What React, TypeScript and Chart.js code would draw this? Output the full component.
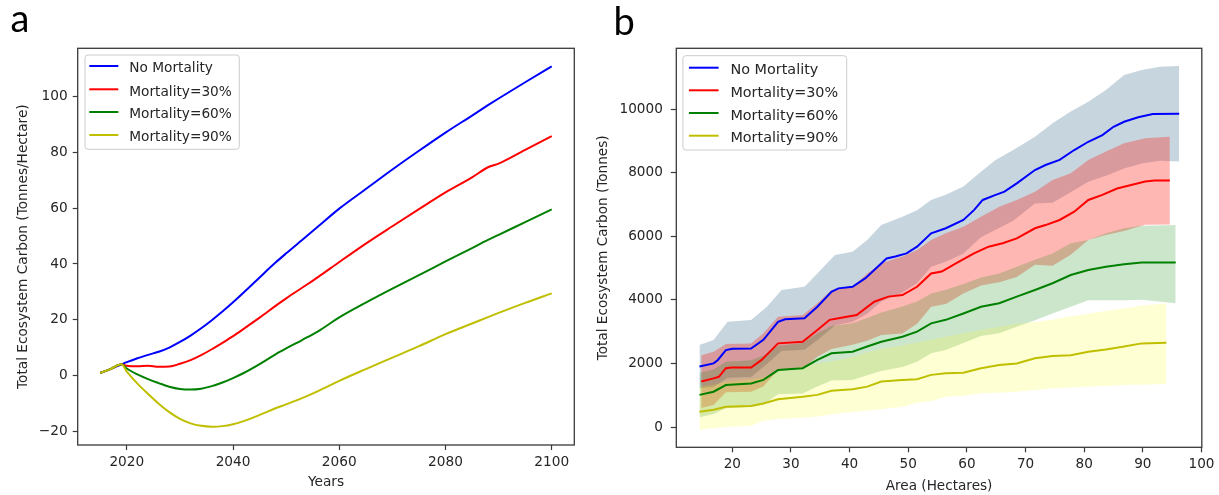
import React, { useEffect, useRef } from 'react';
import { Chart, registerables } from 'chart.js';

Chart.register(...registerables);

// ---------------- Panel a data ----------------
const yearsA = [2015, 2017, 2019, 2020, 2022, 2024, 2026, 2028, 2030, 2032, 2034, 2036, 2038, 2040, 2042, 2045, 2048, 2050, 2053, 2056, 2060, 2065, 2070, 2075, 2080, 2085, 2088, 2090, 2095, 2100];
const noMortalityA = [1.0, 2.5, 4.1, 4.9, 6.3, 7.5, 8.6, 10.1, 12.1, 14.4, 17.0, 19.9, 23.0, 26.3, 29.8, 35.2, 40.5, 43.8, 48.6, 53.4, 59.8, 66.8, 73.8, 80.5, 87.0, 93.1, 96.8, 99.2, 105.0, 110.7];
const mort30A = [1.0, 2.5, 4.1, 3.6, 3.4, 3.6, 3.2, 3.3, 4.3, 5.6, 7.4, 9.5, 11.8, 14.2, 16.8, 20.8, 25.0, 27.7, 31.5, 35.3, 40.7, 47.3, 53.5, 59.6, 65.6, 71.0, 74.6, 75.9, 80.8, 85.7];
const mort60A = [1.0, 2.5, 4.1, 2.6, 0.5, -1.2, -2.6, -3.9, -4.7, -4.9, -4.6, -3.7, -2.4, -0.8, 1.0, 4.2, 7.7, 9.8, 12.8, 15.9, 20.9, 26.2, 31.2, 36.0, 40.9, 45.7, 48.6, 50.4, 55.0, 59.5];
const mort90A = [1.0, 2.5, 4.1, 1.5, -2.8, -6.5, -10.0, -13.0, -15.4, -17.0, -17.9, -18.2, -18.0, -17.3, -16.2, -14.0, -11.6, -10.2, -8.0, -5.5, -1.8, 2.4, 6.5, 10.6, 14.9, 18.7, 21.0, 22.5, 26.1, 29.5];
const xTicksA = [2020, 2040, 2060, 2080, 2100];
const yTicksA = [-20, 0, 20, 40, 60, 80, 100];

// ---------------- Panel b data ----------------
const blueX = [14.4, 16.8, 17.5, 18.9, 20.0, 23.2, 25.3, 27.8, 29.0, 32.3, 34.5, 36.9, 38.1, 40.5, 42.7, 44.2, 46.3, 47.8, 49.7, 51.5, 53.9, 56.4, 59.4, 61.2, 62.7, 64.9, 66.4, 68.5, 71.6, 73.4, 75.8, 78.3, 80.7, 83.1, 85.0, 86.8, 89.2, 91.7, 96.2];
const blueMean = [1900, 2000, 2100, 2420, 2460, 2470, 2740, 3310, 3390, 3420, 3780, 4250, 4360, 4410, 4680, 4940, 5300, 5360, 5460, 5670, 6090, 6250, 6510, 6820, 7140, 7300, 7400, 7660, 8080, 8240, 8400, 8710, 8970, 9180, 9440, 9600, 9740, 9840, 9850];
const blueBandX = [14.4, 16.8, 19.2, 23.2, 25.9, 28.4, 32.3, 34.5, 37.5, 40.5, 43.0, 45.4, 49.0, 51.5, 53.9, 56.4, 59.4, 62.4, 64.9, 67.9, 71.6, 74.6, 77.7, 80.7, 83.7, 86.8, 89.8, 92.9, 96.2];
const blueUpper = [2580, 2740, 3310, 3365, 3780, 4310, 4410, 4830, 5410, 5510, 5880, 6350, 6610, 6820, 7140, 7300, 7560, 8030, 8400, 8710, 9130, 9550, 9920, 10230, 10600, 11070, 11230, 11330, 11350];
const blueLower = [1220, 1260, 1550, 1575, 1980, 2390, 2430, 2730, 3190, 3310, 3560, 3950, 4230, 4520, 5040, 5200, 5460, 5970, 6200, 6490, 7030, 7050, 7380, 7710, 7900, 8130, 8290, 8370, 8350];

const redX = [14.7, 16.8, 17.7, 18.9, 19.9, 23.2, 25.0, 27.8, 32.0, 34.5, 36.6, 38.1, 41.2, 44.2, 46.6, 49.0, 51.5, 53.9, 55.7, 58.2, 61.2, 63.7, 66.1, 68.5, 71.6, 73.4, 75.8, 78.3, 80.7, 83.1, 85.6, 88.0, 90.4, 92.0, 94.6];
const redMean = [1430, 1530, 1580, 1850, 1870, 1870, 2110, 2630, 2680, 3050, 3370, 3420, 3520, 3940, 4100, 4150, 4410, 4830, 4890, 5150, 5460, 5670, 5780, 5930, 6250, 6350, 6510, 6770, 7140, 7300, 7500, 7610, 7720, 7750, 7750];
const redBandX = [14.7, 16.8, 18.9, 23.2, 25.3, 27.8, 32.0, 34.5, 36.9, 40.5, 43.0, 45.4, 49.0, 51.5, 53.9, 56.4, 59.4, 62.4, 65.5, 68.5, 71.6, 74.6, 77.7, 80.7, 83.7, 86.8, 90.4, 94.6];
const redUpper = [2260, 2370, 2610, 2630, 2950, 3470, 3520, 3890, 4310, 4410, 4830, 5150, 5360, 5570, 5880, 6090, 6300, 6610, 6930, 7140, 7400, 7770, 7980, 8400, 8660, 8920, 9080, 9130];
const redLower = [600, 690, 1090, 1110, 1270, 1790, 1840, 2210, 2450, 2590, 2710, 2890, 2940, 3250, 3780, 3870, 4200, 4450, 4550, 4720, 5100, 5070, 5420, 5880, 6040, 6160, 6360, 6370];

const greenX = [14.4, 16.8, 18.9, 23.2, 25.3, 27.8, 32.0, 34.5, 36.9, 40.5, 43.0, 45.4, 49.0, 51.5, 53.9, 56.4, 59.4, 62.4, 65.5, 68.5, 71.6, 74.6, 77.7, 80.7, 83.7, 86.8, 89.8, 95.6];
const greenMean = [1010, 1110, 1320, 1370, 1480, 1790, 1850, 2110, 2320, 2370, 2530, 2680, 2840, 3000, 3260, 3370, 3570, 3780, 3890, 4100, 4310, 4520, 4780, 4940, 5040, 5120, 5170, 5170];
const greenUpper = [1710, 1810, 2050, 2100, 2250, 2550, 2650, 2950, 3180, 3260, 3430, 3600, 3790, 3950, 4200, 4320, 4500, 4700, 4830, 5040, 5260, 5460, 5780, 5880, 6090, 6250, 6330, 6350];
const greenLower = [310, 410, 590, 640, 710, 1030, 1050, 1270, 1460, 1480, 1630, 1760, 1890, 2050, 2320, 2420, 2640, 2860, 2950, 3150, 3360, 3570, 3780, 3990, 3990, 3990, 4000, 3890];

const yellowX = [14.4, 16.8, 18.9, 23.2, 25.3, 27.8, 32.0, 34.5, 36.9, 40.5, 43.0, 45.4, 49.0, 51.5, 53.9, 56.4, 59.4, 62.4, 65.5, 68.5, 71.6, 74.6, 77.7, 80.7, 83.7, 86.8, 89.8, 94.0];
const yellowMean = [480, 540, 640, 660, 740, 870, 950, 1010, 1140, 1190, 1270, 1430, 1480, 1500, 1640, 1690, 1710, 1850, 1950, 2000, 2160, 2230, 2260, 2370, 2440, 2530, 2630, 2650];
const yellowUpper = [1270, 1320, 1420, 1500, 1560, 1780, 1900, 2000, 2060, 2200, 2350, 2450, 2560, 2660, 2750, 2840, 2950, 3050, 3150, 3250, 3300, 3370, 3480, 3560, 3650, 3730, 3820, 3890];
const yellowLower = [-90, -40, 0, 40, 200, 250, 290, 330, 400, 470, 520, 560, 640, 760, 820, 950, 980, 1060, 1080, 1110, 1160, 1220, 1240, 1270, 1290, 1320, 1330, 1350];

const xTicksB = [20, 30, 40, 50, 60, 70, 80, 90, 100];
const yTicksB = [0, 2000, 4000, 6000, 8000, 10000];

const seriesLabels = ['No Mortality', 'Mortality=30%', 'Mortality=60%', 'Mortality=90%'];

// ---------------- styling ----------------
const FONT = "'DejaVu Sans', sans-serif";
const TEXT = '#262626';
const SPINE = '#3a3a3a';
const C_BLUE = '#0000ff';
const C_RED = '#ff0000';
const C_GREEN = '#008000';
const C_YELLOW = '#bfbf00';

const pts = (xs: number[], ys: number[]) => xs.map((x, i) => ({ x, y: ys[i] }));
const fmt = (v: number) => (v < 0 ? '\u2212' + Math.abs(v) : String(v));

const framePlugin = {
  id: 'mplFrame',
  afterDraw(chart: any) {
    const { ctx, chartArea: a } = chart;
    ctx.save();
    ctx.strokeStyle = SPINE;
    ctx.lineWidth = 1.3;
    ctx.strokeRect(a.left, a.top, a.right - a.left, a.bottom - a.top);
    ctx.restore();
  },
};

const legendPlugin = {
  id: 'mplLegend',
  afterDraw(chart: any, _args: any, o: any) {
    const ctx = chart.ctx;
    const items = chart.data.datasets.filter((d: any) => d.label);
    ctx.save();
    const r = 3;
    const { x, y, w, h } = o;
    ctx.beginPath();
    ctx.moveTo(x + r, y);
    ctx.lineTo(x + w - r, y);
    ctx.quadraticCurveTo(x + w, y, x + w, y + r);
    ctx.lineTo(x + w, y + h - r);
    ctx.quadraticCurveTo(x + w, y + h, x + w - r, y + h);
    ctx.lineTo(x + r, y + h);
    ctx.quadraticCurveTo(x, y + h, x, y + h - r);
    ctx.lineTo(x, y + r);
    ctx.quadraticCurveTo(x, y, x + r, y);
    ctx.closePath();
    ctx.fillStyle = 'rgba(255,255,255,0.8)';
    ctx.fill();
    ctx.strokeStyle = '#cccccc';
    ctx.lineWidth = 1;
    ctx.stroke();
    items.forEach((d: any, i: number) => {
      const ly = o.rowY[i];
      ctx.strokeStyle = d.borderColor;
      ctx.lineWidth = 2;
      ctx.beginPath();
      ctx.moveTo(o.lineX0, ly);
      ctx.lineTo(o.lineX1, ly);
      ctx.stroke();
      ctx.fillStyle = TEXT;
      ctx.font = `${o.fontSize}px ${FONT}`;
      ctx.textBaseline = 'alphabetic';
      ctx.textAlign = 'left';
      ctx.fillText(d.label, o.textX, ly + o.textDy);
    });
    ctx.restore();
  },
};

function axis(opts: {
  min: number; max: number; ticks: number[]; size: number; fit: number;
  title: string; titlePad: any; tickLen: number; tickPad: number; horizontal: boolean;
}) {
  return {
    type: 'linear',
    min: opts.min,
    max: opts.max,
    afterBuildTicks: (s: any) => {
      s.ticks = opts.ticks.map((v) => ({ value: v }));
    },
    afterFit: (s: any) => {
      if (opts.horizontal) s.height = opts.fit;
      else s.width = opts.fit;
    },
    grid: {
      display: true,
      drawOnChartArea: false,
      drawTicks: true,
      tickLength: opts.tickLen,
      tickWidth: 1.2,
      tickColor: SPINE,
      color: SPINE,
    },
    border: { display: false },
    ticks: {
      color: TEXT,
      font: { family: FONT, size: opts.size },
      padding: opts.tickPad,
      maxRotation: 0,
      minRotation: 0,
      autoSkip: false,
      callback: (v: any) => fmt(Number(v)),
    },
    title: {
      display: true,
      text: opts.title,
      color: TEXT,
      font: { family: FONT, size: opts.size },
      padding: opts.titlePad,
    },
  };
}

function lineDs(label: string, xs: number[], ys: number[], color: string, order: number, smooth: boolean) {
  return {
    label,
    data: pts(xs, ys),
    borderColor: color,
    backgroundColor: color,
    borderWidth: 2,
    pointRadius: 0,
    pointHoverRadius: 0,
    fill: false,
    order,
    tension: 0,
    cubicInterpolationMode: smooth ? 'monotone' : 'default',
  };
}

function bandDs(xs: number[], lower: number[], upper: number[], fillColor: string, order: number) {
  return [
    {
      label: '',
      data: pts(xs, lower),
      borderColor: 'rgba(0,0,0,0)',
      borderWidth: 0,
      pointRadius: 0,
      pointHoverRadius: 0,
      fill: false,
      order,
    },
    {
      label: '',
      data: pts(xs, upper),
      borderColor: 'rgba(0,0,0,0)',
      borderWidth: 0,
      pointRadius: 0,
      pointHoverRadius: 0,
      backgroundColor: fillColor,
      fill: '-1',
      order,
    },
  ];
}

function configA(): any {
  return {
    type: 'line',
    data: {
      datasets: [
        lineDs(seriesLabels[0], yearsA, noMortalityA, C_BLUE, 3, true),
        lineDs(seriesLabels[1], yearsA, mort30A, C_RED, 2, true),
        lineDs(seriesLabels[2], yearsA, mort60A, C_GREEN, 1, true),
        lineDs(seriesLabels[3], yearsA, mort90A, C_YELLOW, 0, true),
      ],
    },
    plugins: [framePlugin, legendPlugin],
    options: {
      animation: false,
      responsive: false,
      events: [],
      layout: { padding: { left: 0, top: 48.3, right: 5.7, bottom: 0 } },
      plugins: {
        legend: { display: false },
        tooltip: { enabled: false },
        mplLegend: {
          x: 85, y: 55, w: 154.3, h: 94.3,
          rowY: [66, 89.3, 112, 135],
          lineX0: 89.3, lineX1: 118.3, textX: 129.3, fontSize: 13.7, textDy: 6.3,
        },
      },
      scales: {
        x: axis({
          min: 2010.75, max: 2104.25, ticks: xTicksA, size: 13.7, fit: 50,
          title: 'Years', titlePad: { top: 0, bottom: 4.5 }, tickLen: 5, tickPad: 4.5, horizontal: true,
        }),
        y: axis({
          min: -24.75, max: 117.15, ticks: yTicksA, size: 13.7, fit: 77.7,
          title: 'Total Ecosystem Carbon (Tonnes/Hectare)', titlePad: { top: 15.3, bottom: 0 },
          tickLen: 5, tickPad: 5, horizontal: false,
        }),
      },
    },
  };
}

function configB(): any {
  return {
    type: 'line',
    data: {
      datasets: [
        ...bandDs(blueBandX, blueLower, blueUpper, 'rgba(70,115,150,0.3)', 14),
        ...bandDs(redBandX, redLower, redUpper, 'rgba(255,30,20,0.32)', 13),
        ...bandDs(greenX, greenLower, greenUpper, 'rgba(0,128,0,0.2)', 12),
        ...bandDs(yellowX, yellowLower, yellowUpper, 'rgba(255,255,0,0.17)', 11),
        lineDs(seriesLabels[0], blueX, blueMean, C_BLUE, 3, false),
        lineDs(seriesLabels[1], redX, redMean, C_RED, 2, false),
        lineDs(seriesLabels[2], greenX, greenMean, C_GREEN, 1, false),
        lineDs(seriesLabels[3], yellowX, yellowMean, C_YELLOW, 0, false),
      ],
    },
    plugins: [framePlugin, legendPlugin],
    options: {
      animation: false,
      responsive: false,
      events: [],
      layout: { padding: { left: 0, top: 48.3, right: 17, bottom: 0 } },
      plugins: {
        legend: { display: false },
        tooltip: { enabled: false },
        filler: { propagate: false },
        mplLegend: {
          x: 102.9, y: 55.7, w: 163.8, h: 94.3,
          rowY: [67.7, 90.3, 113, 135.7],
          lineX0: 108.9, lineX1: 138.6, textX: 150.4, fontSize: 14.4, textDy: 6.5,
        },
      },
      scales: {
        x: axis({
          min: 10.45, max: 100.05, ticks: xTicksB, size: 13.6, fit: 47.7,
          title: 'Area (Hectares)', titlePad: { top: 0, bottom: 0.5 }, tickLen: 5, tickPad: 4.5, horizontal: true,
        }),
        y: axis({
          min: -638, max: 11909, ticks: yTicksB, size: 13.6, fit: 96.3,
          title: 'Total Ecosystem Carbon (Tonnes)', titlePad: { top: 15.2, bottom: 0 },
          tickLen: 5.5, tickPad: 8, horizontal: false,
        }),
      },
    },
  };
}

function ChartCanvas({ make, left, width }: { make: () => any; left: number; width: number }) {
  const ref = useRef<HTMLCanvasElement>(null);
  useEffect(() => {
    const chart = new Chart(ref.current as HTMLCanvasElement, make());
    return () => chart.destroy();
  }, []);
  return (
    <canvas
      ref={ref}
      width={width}
      height={495}
      style={{ position: 'absolute', left, top: 0, width, height: 495 }}
    />
  );
}

export default function App() {
  return (
    <div style={{ position: 'fixed', left: 0, top: 0, width: 1219, height: 495, background: '#ffffff', overflow: 'hidden' }}>
      <ChartCanvas make={configA} left={0} width={580} />
      <ChartCanvas make={configB} left={580} width={639} />
      <svg width={1219} height={495} style={{ position: 'absolute', left: 0, top: 0, pointerEvents: 'none' }}>
        <text x={10.5} y={32} fontFamily="Lato, 'Open Sans', sans-serif" fontSize={38} fill="#000">a</text>
        <text x={613.5} y={35} fontFamily="Lato, 'Open Sans', sans-serif" fontSize={38} fill="#000">b</text>
      </svg>
    </div>
  );
}
